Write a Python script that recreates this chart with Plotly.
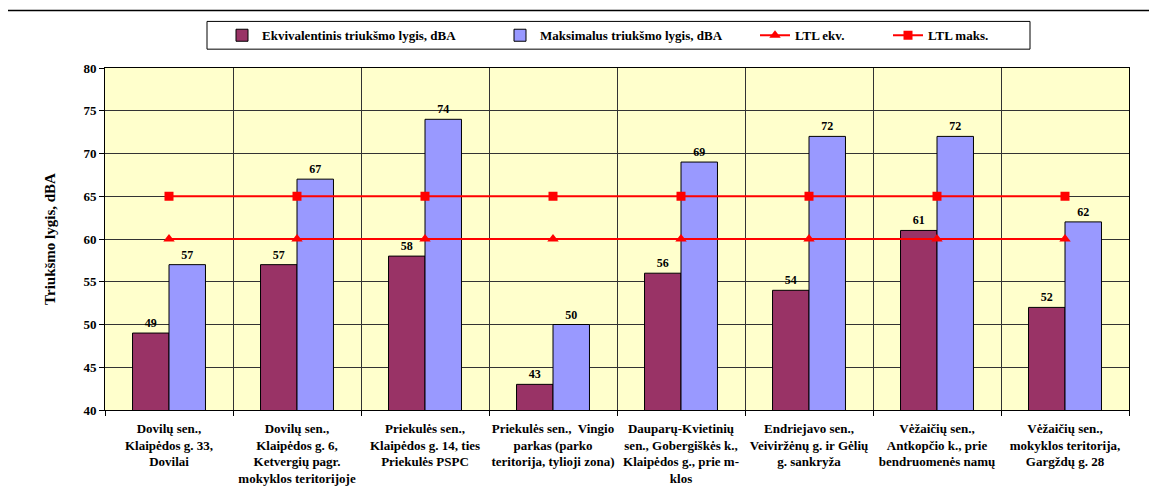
import plotly.graph_objects as go

categories = [
    "Dovilų sen.,<br>Klaipėdos g. 33,<br>Dovilai",
    "Dovilų sen.,<br>Klaipėdos g. 6,<br>Ketvergių pagr.<br>mokyklos teritorijoje",
    "Priekulės sen.,<br>Klaipėdos g. 14, ties<br>Priekulės PSPC",
    "Priekulės sen.,  Vingio<br>parkas (parko<br>teritorija, tylioji zona)",
    "Dauparų-Kvietinių<br>sen., Gobergiškės k.,<br>Klaipėdos g., prie m-<br>klos",
    "Endriejavo sen.,<br>Veiviržėnų g. ir Gėlių<br>g. sankryža",
    "Vėžaičių sen.,<br>Antkopčio k., prie<br>bendruomenės namų",
    "Vėžaičių sen.,<br>mokyklos teritorija,<br>Gargždų g. 28",
]
ekv = [49, 57, 58, 43, 56, 54, 61, 52]
maks = [57, 67, 74, 50, 69, 72, 72, 62]
ltl_ekv = [60, 60, 60, 60, 60, 60, 60, 60]
ltl_maks = [65, 65, 65, 65, 65, 65, 65, 65]
y_ticks = [40, 45, 50, 55, 60, 65, 70, 75, 80]

FONT = "Liberation Serif, Times New Roman, serif"
bold = dict(family=FONT, size=12, color="black", weight="bold")
bold13 = dict(family=FONT, size=13, color="black", weight="bold")

fig = go.Figure()
fig.add_trace(go.Bar(
    x=categories, y=ekv, name="Ekvivalentinis triukšmo lygis, dBA",
    marker=dict(color="#993366", line=dict(color="black", width=1)),
    text=ekv, textposition="outside", textfont=bold, cliponaxis=False,
    legend="legend", showlegend=True,
))
fig.add_trace(go.Bar(
    x=categories, y=maks, name="Maksimalus triukšmo lygis, dBA",
    marker=dict(color="#9999FF", line=dict(color="black", width=1)),
    text=maks, textposition="outside", textfont=bold, cliponaxis=False,
    legend="legend2", showlegend=True,
))
fig.add_trace(go.Scatter(
    x=categories, y=ltl_ekv, name="LTL ekv.", mode="lines+markers",
    line=dict(color="#FF0000", width=2),
    marker=dict(symbol="triangle-up", size=10, color="#FF0000"),
    legend="legend3", showlegend=True,
))
fig.add_trace(go.Scatter(
    x=categories, y=ltl_maks, name="LTL maks.", mode="lines+markers",
    line=dict(color="#FF0000", width=2),
    marker=dict(symbol="square", size=9, color="#FF0000"),
    legend="legend4", showlegend=True,
))

# screen offset of the page body (8px)
OFF = 8
W, H = 1157, 490
L, R, T, B = 105 - OFF, 28 + OFF, 65 - OFF, 80 + OFF
pw, ph = W - L - R, H - T - B

def px(x):
    return (x - OFF - L) / pw

def py(y):
    return (H - B - (y - OFF)) / ph

leg_common = dict(orientation="h", yanchor="middle", xanchor="left",
                  bgcolor="rgba(0,0,0,0)", borderwidth=0, font=bold13)

fig.update_layout(
    width=W, height=H,
    margin=dict(l=L, r=R, t=T, b=B, pad=0),
    paper_bgcolor="white", plot_bgcolor="#FFFFCC",
    barmode="group", bargap=0.43, bargroupgap=0,
    showlegend=True,
    font=dict(family=FONT, size=12, color="black"),
    legend=dict(x=px(222), y=py(32), **leg_common),
    legend2=dict(x=px(500), y=py(32), **leg_common),
    legend3=dict(x=px(755), y=py(32), **leg_common),
    legend4=dict(x=px(888), y=py(32), **leg_common),
    xaxis=dict(
        tickson="boundaries", ticks="outside", ticklen=5, tickcolor="black",
        showgrid=True, gridcolor="#333333", gridwidth=1,
        showline=True, linecolor="black", linewidth=1, mirror=True,
        tickfont=bold13, tickangle=0, ticklabelstandoff=6,
    ),
    yaxis=dict(
        range=[40, 80], tickvals=y_ticks, ticks="outside", ticklen=5, tickcolor="black",
        showgrid=True, gridcolor="#333333", gridwidth=1,
        showline=True, linecolor="black", linewidth=1, mirror=True,
        tickfont=bold13, zeroline=False,
        title=dict(text="Triukšmo lygis, dBA", font=dict(family=FONT, size=15, color="black", weight="bold"), standoff=24),
    ),
    shapes=[
        dict(type="rect", xref="paper", yref="paper",
             x0=px(207), x1=px(1030), y0=py(46), y1=py(18),
             line=dict(color="black", width=1), fillcolor="rgba(0,0,0,0)", layer="above"),
        dict(type="rect", xref="paper", yref="paper",
             x0=px(6), x1=px(1150), y0=py(520), y1=py(7),
             line=dict(color="black", width=1.5), fillcolor="rgba(0,0,0,0)", layer="above"),
    ],
)

fig.write_html("out.html")
